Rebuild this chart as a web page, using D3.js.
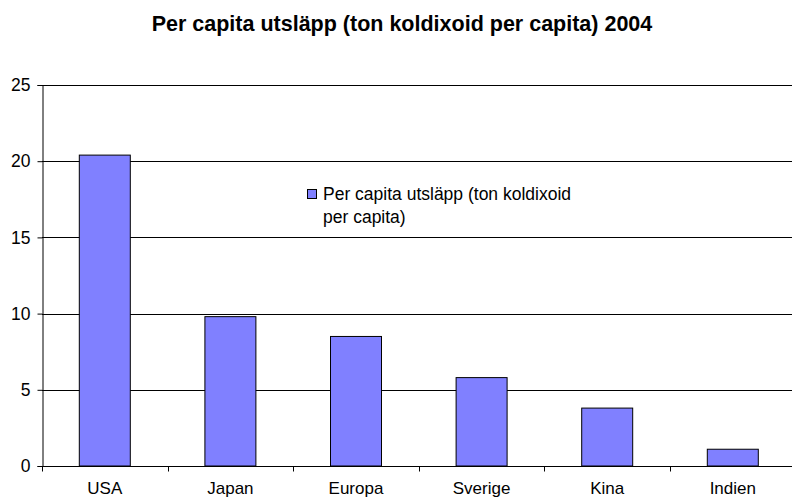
<!DOCTYPE html>
<html>
<head>
<meta charset="utf-8">
<script src="https://cdn.jsdelivr.net/npm/d3@7"></script>
<style>
  body { margin: 0; background: #fff; }
  text { font-family: "Liberation Sans", Arial, sans-serif; }
</style>
</head>
<body>
<div class="barChart"></div>
<script>
var categories = ["USA", "Japan", "Europa", "Sverige", "Kina", "Indien"];
var values = [20.4, 9.8, 8.5, 5.8, 3.8, 1.1];
var yTicks = [0, 5, 10, 15, 20, 25];
var seriesName = "Per capita utsläpp (ton koldixoid per capita)";
var title = "Per capita utsläpp (ton koldixoid per capita) 2004";

function init() {
  var w = 792;
  var h = 499;
  var left = 42, right = 795.6, top = 85, bottom = 466;

  var svg = d3.select(".barChart")
    .append("svg")
    .attr("width", w)
    .attr("height", h);

  var xScale = d3.scaleBand()
    .domain(categories)
    .range([left, right])
    .paddingInner(0.594)
    .paddingOuter(0.297);

  var yScale = d3.scaleLinear()
    .domain([0, 25])
    .range([bottom, top]);

  // gridlines
  svg.append("g")
    .selectAll("line")
    .data(yTicks.slice(1))
    .enter()
    .append("line")
    .attr("x1", left)
    .attr("x2", w)
    .attr("y1", function(d) { return Math.round(yScale(d)) + 0.5; })
    .attr("y2", function(d) { return Math.round(yScale(d)) + 0.5; })
    .attr("stroke", "#000")
    .attr("stroke-width", 1);

  // bars
  svg.selectAll("rect.bar")
    .data(values)
    .enter()
    .append("rect")
    .attr("class", "bar")
    .attr("x", function(d, i) { return xScale(categories[i]); })
    .attr("y", function(d) { return yScale(d); })
    .attr("width", xScale.bandwidth())
    .attr("height", function(d) { return bottom - yScale(d); })
    .attr("fill", "#8080ff")
    .attr("stroke", "#000")
    .attr("stroke-width", 1);

  // y axis
  var yAxis = d3.axisLeft(yScale)
    .tickValues(yTicks)
    .tickSize(5)
    .tickPadding(7);

  var gy = svg.append("g")
    .attr("transform", "translate(" + (left + 0.5) + ",0)")
    .call(yAxis);
  gy.select(".domain").attr("stroke", "#000");
  gy.selectAll("text").attr("font-size", "17.5px").attr("fill", "#000")
    .style("font-family", "'Liberation Sans', Arial, sans-serif");

  // x axis
  var gx = svg.append("g")
    .attr("transform", "translate(0," + (bottom + 0.5) + ")");
  gx.append("line")
    .attr("x1", left).attr("x2", w)
    .attr("y1", 0).attr("y2", 0)
    .attr("stroke", "#000");
  gx.selectAll("line.tick")
    .data(categories)
    .enter()
    .append("line")
    .attr("class", "tick")
    .attr("x1", function(d) { return Math.round(xScale(d) - xScale.step() * 0.297) + 0.5; })
    .attr("x2", function(d) { return Math.round(xScale(d) - xScale.step() * 0.297) + 0.5; })
    .attr("y1", 0).attr("y2", 5)
    .attr("stroke", "#000");
  gx.selectAll("text")
    .data(categories)
    .enter()
    .append("text")
    .attr("x", function(d) { return xScale(d) + xScale.bandwidth() / 2; })
    .attr("y", 27)
    .attr("text-anchor", "middle")
    .attr("font-size", "17px")
    .text(function(d) { return d; });

  // title
  svg.append("text")
    .attr("x", 402)
    .attr("y", 31)
    .attr("text-anchor", "middle")
    .attr("font-size", "21.5px")
    .attr("font-weight", "bold")
    .text(title);

  // legend
  var legend = svg.append("g")
    .attr("transform", "translate(307,189)");
  legend.append("rect")
    .attr("x", 0.5).attr("y", 0.5)
    .attr("width", 9).attr("height", 9)
    .attr("fill", "#8080ff")
    .attr("stroke", "#000");
  legend.append("text")
    .attr("x", 16).attr("y", 11)
    .attr("font-size", "17.5px")
    .text("Per capita utsläpp (ton koldixoid");
  legend.append("text")
    .attr("x", 16).attr("y", 34)
    .attr("font-size", "17.5px")
    .text("per capita)");
}

window.onload = init;
</script>
</body>
</html>
